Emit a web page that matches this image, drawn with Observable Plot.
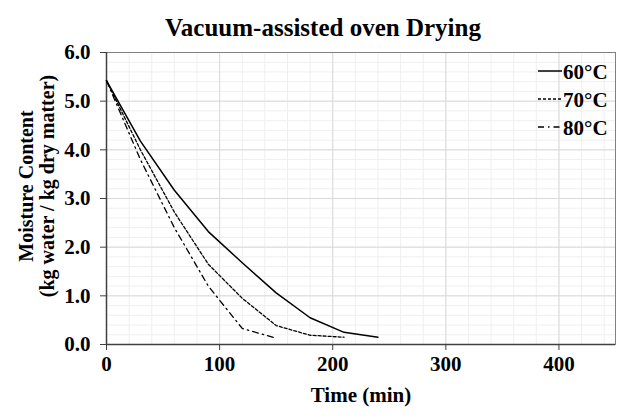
<!DOCTYPE html>
<html>
<head>
<meta charset="utf-8">
<script src="https://cdn.jsdelivr.net/npm/d3@7"></script>
<script src="https://cdn.jsdelivr.net/npm/@observablehq/plot@0.6"></script>
<style>
  html, body { margin: 0; padding: 0; background: #fff; }
  #wrap { position: relative; width: 640px; height: 418px; font-family: "Liberation Serif", "Times New Roman", serif; font-weight: bold; color: #000; overflow: hidden; }
  #title { position: relative; z-index: 2; height: 32px; line-height: 56px; text-align: center; font-size: 25px; white-space: nowrap; padding-left: 6px; }
  #chart svg { display: block; }
  #ylabel { position: absolute; left: -113px; top: 165px; width: 300px; height: 42px; line-height: 21px; font-size: 20px; text-align: center; transform: rotate(-90deg); transform-origin: 50% 50%; white-space: nowrap; }
  #legend { position: absolute; left: 536px; top: 58px; font-size: 21px; }
  .item { position: absolute; left: 0; height: 28px; white-space: nowrap; }
  .item svg { position: absolute; left: 0; top: 0; }
  .item span { position: absolute; left: 27px; top: 0; line-height: 28px; }
</style>
</head>
<body>
<div id="wrap">
  <div id="title">Vacuum-assisted oven Drying</div>
  <div id="chart"></div>
  <div id="ylabel">Moisture Content<br>(kg water / kg dry matter)</div>
  <div id="legend"></div>
</div>
<script>
// Data
const times60 = [0, 30, 60, 90, 120, 150, 180, 210, 240];
const moisture60 = [5.42, 4.18, 3.17, 2.32, 1.68, 1.06, 0.55, 0.25, 0.15];
const times70 = [0, 30, 60, 90, 120, 150, 180, 210];
const moisture70 = [5.42, 4.00, 2.72, 1.65, 0.95, 0.39, 0.19, 0.15];
const times80 = [0, 30, 60, 90, 120, 150];
const moisture80 = [5.42, 3.80, 2.40, 1.20, 0.33, 0.13];

const seriesNames = ["60°C", "70°C", "80°C"];
const xTicks = [0, 100, 200, 300, 400];
const yTicks = [0, 1, 2, 3, 4, 5, 6];
const xMinor = d3.range(20, 450, 20);
const yMinor = d3.range(0.2, 6, 0.2);

const dashes = {"60°C": null, "70°C": "3,2", "80°C": "6,4,1.5,4"};
const widths = {"60°C": 1.5, "70°C": 1.3, "80°C": 1.3};

const d60 = times60.map((t, i) => ({t, m: moisture60[i]}));
const d70 = times70.map((t, i) => ({t, m: moisture70[i]}));
const d80 = times80.map((t, i) => ({t, m: moisture80[i]}));

const chart = Plot.plot({
  width: 640,
  height: 386,
  marginTop: 20,
  marginLeft: 106,
  marginRight: 25,
  marginBottom: 74,
  style: {fontFamily: "'Liberation Serif', 'Times New Roman', serif", fontSize: "21px", fontWeight: "bold", color: "#000", background: "transparent"},
  x: {domain: [0, 450]},
  y: {domain: [0, 6]},
  marks: [
    Plot.gridX(xMinor, {stroke: "#efefef", strokeOpacity: 1}),
    Plot.gridY(yMinor, {stroke: "#efefef", strokeOpacity: 1}),
    Plot.gridX(xTicks.slice(1), {stroke: "#d9d9d9", strokeOpacity: 1}),
    Plot.gridY(yTicks.slice(1), {stroke: "#d9d9d9", strokeOpacity: 1}),
    Plot.frame({stroke: "#808080", strokeWidth: 1}),
    Plot.axisX({ticks: xTicks, tickSize: 6, tickPadding: 6, stroke: "#404040",
      label: "Time (min)", labelAnchor: "center", labelArrow: "none", labelOffset: 57}),
    Plot.axisY({ticks: yTicks, tickSize: 6, tickPadding: 10, stroke: "#404040",
      tickFormat: d => d.toFixed(1), label: null}),
    Plot.ruleX([0], {stroke: "#404040", strokeWidth: 1.5}),
    Plot.ruleY([0], {stroke: "#404040", strokeWidth: 1.5}),
    Plot.line(d60, {x: "t", y: "m", stroke: "#000", strokeWidth: widths["60°C"]}),
    Plot.line(d70, {x: "t", y: "m", stroke: "#000", strokeWidth: widths["70°C"], strokeDasharray: dashes["70°C"]}),
    Plot.line(d80, {x: "t", y: "m", stroke: "#000", strokeWidth: widths["80°C"], strokeDasharray: dashes["80°C"]})
  ]
});
document.getElementById("chart").appendChild(chart);

// Legend
const legend = document.getElementById("legend");
seriesNames.forEach((name, i) => {
  const item = document.createElement("div");
  item.className = "item";
  item.style.top = (i * 28) + "px";
  const dash = dashes[name] ? ` stroke-dasharray="${dashes[name]}"` : "";
  item.innerHTML = `<svg width="27" height="28"><line x1="2" x2="26" y1="13" y2="13" stroke="#000" stroke-width="${widths[name]}"${dash}></line></svg><span>${name}</span>`;
  legend.appendChild(item);
});
</script>
</body>
</html>
